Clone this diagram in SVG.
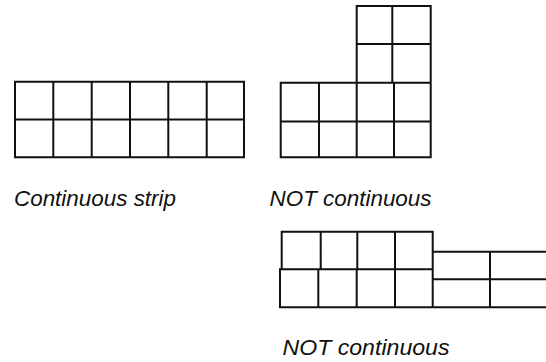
<svg xmlns="http://www.w3.org/2000/svg" width="546" height="362" viewBox="0 0 546 362">
<style>
.g{fill:none;stroke:#111;stroke-width:2;stroke-linecap:square}
.t{font-family:"Liberation Sans",Arial,sans-serif;font-style:italic;font-size:22px;fill:#111}
</style>
<rect width="546" height="362" fill="#fff"/>
<g id="strip">
<path class="g" d="M15,81.7H244V157.3H15Z M15,119.5H244 M53.3,81.7V157.3 M91.7,81.7V157.3 M130,81.7V157.3 M168.3,81.7V157.3 M206.7,81.7V157.3"/>
<text class="t" x="14" y="205.5" textLength="162" lengthAdjust="spacingAndGlyphs">Continuous strip</text>
</g>
<g id="lshape">
<path class="g" d="M280.7,82.7H356.7V6H430.7V157.3H280.7Z M280.7,121.5H430.7 M356.7,82.7H430.7 M356.7,44H430.7 M319,82.7V157.3 M356.7,82.7V157.3 M394,82.7V157.3 M392.3,6V82.7"/>
<text class="t" x="269.5" y="205.5" textLength="162" lengthAdjust="spacingAndGlyphs">NOT continuous</text>
</g>
<g id="stepshape">
<path class="g" d="M281.7,231.7H432.7V251.7H547 M281.7,231.7V269.3 M280,269.3H432.7 M280,269.3V307.3H547 M432.7,231.7V307.3 M432.7,279.3H547 M490,251.7V307.3 M320.7,231.7V269.3 M357.3,231.7V269.3 M395,231.7V269.3 M318.3,269.3V307.3 M356.7,269.3V307.3 M395,269.3V307.3"/>
<text class="t" x="282.5" y="355" textLength="167" lengthAdjust="spacingAndGlyphs">NOT continuous</text>
</g>
</svg>
